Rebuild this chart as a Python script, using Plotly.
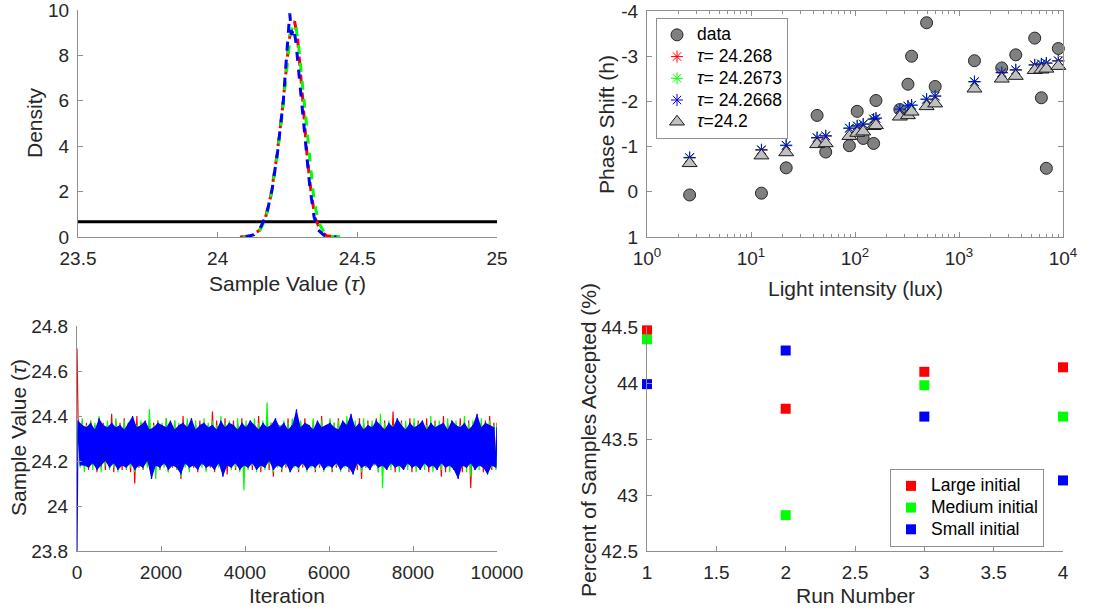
import plotly.graph_objects as go

# ---------------- data ----------------
# Top-left: posterior densities of tau for three chains
dens_red_x = [24.08, 24.12, 24.15, 24.17, 24.19, 24.21, 24.23, 24.245, 24.255, 24.265, 24.275, 24.285, 24.295, 24.305, 24.32, 24.335, 24.35, 24.37, 24.39, 24.42]
dens_red_y = [0.0, 0.05, 0.3, 0.8, 1.8, 3.4, 5.4, 7.3, 8.6, 9.3, 9.5, 8.9, 7.6, 6.0, 3.6, 1.9, 0.8, 0.25, 0.06, 0.0]
dens_green_x = [24.09, 24.12, 24.15, 24.17, 24.19, 24.21, 24.23, 24.245, 24.26, 24.27, 24.28, 24.29, 24.30, 24.315, 24.33, 24.345, 24.36, 24.38, 24.41, 24.45]
dens_green_y = [0.0, 0.04, 0.28, 0.75, 1.75, 3.3, 5.3, 7.2, 8.9, 9.4, 9.3, 8.4, 7.1, 5.2, 3.2, 1.6, 0.7, 0.2, 0.03, 0.0]
dens_blue_x = [24.10, 24.13, 24.155, 24.175, 24.195, 24.215, 24.235, 24.25, 24.258, 24.265, 24.272, 24.28, 24.29, 24.30, 24.315, 24.33, 24.345, 24.36, 24.38, 24.40, 24.425]
dens_blue_y = [0.0, 0.1, 0.45, 1.0, 2.1, 3.8, 6.0, 8.6, 9.85, 8.9, 9.2, 8.6, 7.4, 6.1, 4.1, 2.2, 0.9, 0.3, 0.08, 0.02, 0.0]
prior_range = [23.5, 25.0]
prior_density = 0.667

# Top-right: phase response data and model fits
lux = [2.57, 12.6, 21.8, 43.2, 52.3, 88.3, 105, 120, 151, 159, 270, 323, 350, 488, 590,
       1408, 2577, 3513, 5345, 6194, 6918, 9020]
shift_data = [0.07, 0.03, -0.53, -1.69, -0.88, -1.02, -1.78, -1.18, -1.07, -2.02, -1.82, -2.38, -3.0, -3.74, -2.33,
              -2.90, -2.74, -3.03, -3.40, -2.08, -0.52, -3.17]
shift_tau_a = [-0.75, -0.92, -1.02, -1.19, -1.23, -1.40, -1.45, -1.49, -1.60, -1.62, -1.82, -1.89, -1.91, -2.04, -2.11,
               -2.43, -2.63, -2.69, -2.80, -2.82, -2.84, -2.89]
shift_tau_b = [-0.75, -0.93, -1.03, -1.20, -1.24, -1.41, -1.46, -1.50, -1.61, -1.63, -1.83, -1.89, -1.91, -2.05, -2.12,
               -2.43, -2.64, -2.70, -2.81, -2.83, -2.85, -2.90]
shift_tau_c = [-0.76, -0.93, -1.03, -1.20, -1.24, -1.41, -1.46, -1.50, -1.61, -1.63, -1.83, -1.90, -1.92, -2.05, -2.12,
               -2.44, -2.64, -2.70, -2.81, -2.83, -2.85, -2.90]
shift_tau_d = [-0.63, -0.80, -0.87, -1.05, -1.07, -1.23, -1.30, -1.33, -1.45, -1.47, -1.66, -1.69, -1.77, -1.89, -1.95,
               -2.28, -2.50, -2.56, -2.69, -2.70, -2.72, -2.78]
legend_names = ["data", "<i>τ</i>= 24.268", "<i>τ</i>= 24.2673", "<i>τ</i>= 24.2668", "<i>τ</i>=24.2"]

# Bottom-left: MCMC trace, read as the start value plus the highest and lowest
# sample within each block of 100 iterations
block_size = 100
n_iter = 10000
start_large, start_medium, start_small = 24.70, 24.27, 23.80
large_high = [
    24.39, 24.38, 24.37, 24.38, 24.36, 24.39, 24.37, 24.36, 24.41, 24.38,
    24.37, 24.39, 24.36, 24.38, 24.40, 24.37, 24.36, 24.39, 24.37, 24.38,
    24.36, 24.39, 24.37, 24.38, 24.36, 24.40, 24.37, 24.39, 24.36, 24.38,
    24.37, 24.36, 24.42, 24.38, 24.37, 24.39, 24.36, 24.38, 24.37, 24.39,
    24.36, 24.38, 24.37, 24.40, 24.36, 24.39, 24.37, 24.38, 24.36, 24.37,
    24.39, 24.36, 24.38, 24.37, 24.39, 24.36, 24.38, 24.37, 24.40, 24.36,
    24.38, 24.37, 24.39, 24.36, 24.38, 24.37, 24.36, 24.39, 24.37, 24.38,
    24.36, 24.39, 24.37, 24.38, 24.36, 24.42, 24.37, 24.38, 24.36, 24.39,
    24.37, 24.38, 24.36, 24.39, 24.37, 24.38, 24.36, 24.40, 24.37, 24.38,
    24.36, 24.39, 24.37, 24.38, 24.36, 24.39, 24.37, 24.38, 24.40, 24.37]
large_low = [
    24.22, 24.17, 24.16, 24.18, 24.15, 24.17, 24.16, 24.18, 24.15, 24.17,
    24.16, 24.18, 24.15, 24.10, 24.17, 24.16, 24.18, 24.15, 24.17, 24.16,
    24.18, 24.15, 24.17, 24.16, 24.12, 24.18, 24.16, 24.17, 24.15, 24.18,
    24.16, 24.17, 24.15, 24.18, 24.16, 24.14, 24.17, 24.16, 24.18, 24.15,
    24.17, 24.16, 24.18, 24.15, 24.17, 24.16, 24.13, 24.18, 24.15, 24.17,
    24.16, 24.18, 24.15, 24.17, 24.16, 24.18, 24.15, 24.17, 24.16, 24.18,
    24.15, 24.17, 24.16, 24.18, 24.15, 24.17, 24.16, 24.12, 24.17, 24.16,
    24.18, 24.15, 24.17, 24.16, 24.18, 24.15, 24.17, 24.16, 24.18, 24.15,
    24.17, 24.16, 24.18, 24.15, 24.17, 24.16, 24.13, 24.15, 24.17, 24.16,
    24.18, 24.15, 24.17, 24.08, 24.16, 24.18, 24.15, 24.17, 24.16, 24.18]
medium_high = [
    24.37, 24.39, 24.36, 24.38, 24.37, 24.40, 24.36, 24.38, 24.37, 24.39,
    24.36, 24.38, 24.37, 24.39, 24.36, 24.38, 24.37, 24.43, 24.36, 24.38,
    24.37, 24.39, 24.36, 24.38, 24.37, 24.36, 24.39, 24.37, 24.38, 24.36,
    24.39, 24.37, 24.38, 24.36, 24.40, 24.37, 24.38, 24.36, 24.39, 24.37,
    24.38, 24.36, 24.39, 24.37, 24.38, 24.46, 24.37, 24.39, 24.36, 24.38,
    24.37, 24.39, 24.36, 24.38, 24.37, 24.36, 24.39, 24.37, 24.38, 24.36,
    24.39, 24.37, 24.38, 24.36, 24.40, 24.37, 24.38, 24.36, 24.39, 24.37,
    24.38, 24.36, 24.41, 24.37, 24.38, 24.36, 24.39, 24.37, 24.38, 24.36,
    24.39, 24.37, 24.38, 24.36, 24.40, 24.37, 24.38, 24.36, 24.39, 24.37,
    24.38, 24.36, 24.40, 24.37, 24.38, 24.36, 24.39, 24.37, 24.38, 24.36]
medium_low = [
    24.17, 24.15, 24.18, 24.16, 24.17, 24.15, 24.18, 24.16, 24.17, 24.15,
    24.18, 24.16, 24.17, 24.15, 24.18, 24.16, 24.17, 24.15, 24.12, 24.16,
    24.17, 24.15, 24.18, 24.16, 24.13, 24.17, 24.15, 24.18, 24.16, 24.17,
    24.15, 24.18, 24.16, 24.17, 24.15, 24.18, 24.16, 24.17, 24.15, 24.07,
    24.16, 24.18, 24.15, 24.17, 24.16, 24.18, 24.15, 24.17, 24.16, 24.18,
    24.15, 24.17, 24.16, 24.18, 24.15, 24.17, 24.16, 24.18, 24.15, 24.17,
    24.16, 24.18, 24.15, 24.17, 24.16, 24.14, 24.18, 24.15, 24.17, 24.16,
    24.18, 24.15, 24.08, 24.17, 24.16, 24.18, 24.15, 24.17, 24.16, 24.18,
    24.15, 24.17, 24.16, 24.18, 24.15, 24.17, 24.16, 24.18, 24.15, 24.17,
    24.16, 24.18, 24.15, 24.13, 24.17, 24.16, 24.18, 24.15, 24.17, 24.16]
small_high = [
    24.38, 24.36, 24.35, 24.37, 24.34, 24.39, 24.36, 24.35, 24.37, 24.35,
    24.36, 24.34, 24.37, 24.40, 24.35, 24.36, 24.38, 24.34, 24.35, 24.37,
    24.36, 24.35, 24.38, 24.34, 24.36, 24.37, 24.35, 24.39, 24.34, 24.36,
    24.37, 24.35, 24.36, 24.34, 24.38, 24.35, 24.37, 24.36, 24.34, 24.37,
    24.35, 24.38, 24.36, 24.34, 24.37, 24.35, 24.36, 24.39, 24.35, 24.37,
    24.34, 24.36, 24.43, 24.35, 24.37, 24.36, 24.34, 24.38, 24.35, 24.36,
    24.37, 24.35, 24.34, 24.38, 24.36, 24.41, 24.35, 24.37, 24.34, 24.36,
    24.35, 24.38, 24.36, 24.34, 24.37, 24.35, 24.39, 24.36, 24.34, 24.37,
    24.35, 24.36, 24.38, 24.34, 24.37, 24.35, 24.36, 24.37, 24.34, 24.38,
    24.36, 24.35, 24.37, 24.34, 24.36, 24.41, 24.35, 24.37, 24.36, 24.35]
small_low = [
    24.18, 24.18, 24.17, 24.19, 24.16, 24.18, 24.20, 24.17, 24.19, 24.16,
    24.18, 24.17, 24.19, 24.16, 24.18, 24.17, 24.20, 24.12, 24.18, 24.17,
    24.19, 24.16, 24.18, 24.17, 24.14, 24.19, 24.17, 24.18, 24.16, 24.19,
    24.17, 24.18, 24.16, 24.19, 24.13, 24.18, 24.17, 24.19, 24.16, 24.18,
    24.17, 24.19, 24.16, 24.18, 24.17, 24.20, 24.16, 24.18, 24.17, 24.19,
    24.15, 24.18, 24.17, 24.19, 24.16, 24.18, 24.17, 24.19, 24.16, 24.18,
    24.17, 24.19, 24.16, 24.18, 24.17, 24.14, 24.19, 24.17, 24.18, 24.16,
    24.19, 24.17, 24.18, 24.16, 24.19, 24.17, 24.18, 24.16, 24.19, 24.17,
    24.18, 24.16, 24.19, 24.17, 24.18, 24.16, 24.19, 24.17, 24.18, 24.16,
    24.12, 24.18, 24.17, 24.19, 24.16, 24.18, 24.17, 24.14, 24.18, 24.17]

# Bottom-right: acceptance rates
runs = [1, 2, 3, 4]
accept_large = [44.47, 43.77, 44.10, 44.14]
accept_medium = [44.39, 42.82, 43.98, 43.70]
accept_small = [43.99, 44.29, 43.70, 43.13]
accept_names = ["Large initial", "Medium initial", "Small initial"]

RED, GREEN, BLUE = "#ff0000", "#00ff00", "#0000ff"
AX = "#8f8f8f"
TXT = "#262626"
FONT = "Liberation Sans, Arial, Helvetica, sans-serif"
LEG_TXT = '<span style="font-size:17.5px">{}</span>'


def trace_path(start, highs, lows):
    xs, ys = [0], [start]
    for i, (h, l) in enumerate(zip(highs, lows)):
        xs += [i * block_size + block_size * 0.25, i * block_size + block_size * 0.75]
        ys += [h, l]
    xs.append(n_iter)
    ys.append(highs[-1])
    return xs, ys


fig = go.Figure()

# ---- top-left
fig.add_trace(go.Scatter(x=prior_range, y=[prior_density, prior_density], mode="lines",
                         line=dict(color="black", width=3), xaxis="x", yaxis="y", showlegend=False))
for xs, ys, c in [(dens_red_x, dens_red_y, RED), (dens_green_x, dens_green_y, GREEN), (dens_blue_x, dens_blue_y, BLUE)]:
    fig.add_trace(go.Scatter(x=xs, y=ys, mode="lines", line=dict(color=c, width=3, dash="dash"),
                             xaxis="x", yaxis="y", showlegend=False))

# ---- top-right
fig.add_trace(go.Scatter(x=lux, y=shift_data, mode="markers", name=LEG_TXT.format(legend_names[0]),
                         marker=dict(symbol="circle", size=12, color="#808080", line=dict(color="#262626", width=1)),
                         xaxis="x2", yaxis="y2", legend="legend", cliponaxis=False))
for ys, c, nm in [(shift_tau_a, RED, legend_names[1]), (shift_tau_b, GREEN, legend_names[2]), (shift_tau_c, BLUE, legend_names[3])]:
    fig.add_trace(go.Scatter(x=lux, y=ys, mode="markers", name=LEG_TXT.format(nm),
                             marker=dict(symbol="asterisk-open", size=10, color=c, line=dict(color=c, width=1)),
                             xaxis="x2", yaxis="y2", legend="legend", cliponaxis=False))
fig.add_trace(go.Scatter(x=lux, y=shift_tau_d, mode="markers", name=LEG_TXT.format(legend_names[4]),
                         marker=dict(symbol="triangle-up", size=13, color="#c0c0c0", line=dict(color="#1a1a1a", width=1)),
                         xaxis="x2", yaxis="y2", legend="legend", cliponaxis=False))

# ---- bottom-left
for st, hi, lo, c in [(start_large, large_high, large_low, RED),
                      (start_medium, medium_high, medium_low, GREEN)]:
    xs, ys = trace_path(st, hi, lo)
    fig.add_trace(go.Scatter(x=xs, y=ys, mode="lines", line=dict(color=c, width=1.2),
                             xaxis="x3", yaxis="y3", showlegend=False))
# dense blue chain: block envelope, then its samples on top
bin_hi_x = [i * block_size + block_size * 0.25 for i in range(len(small_high))]
bin_lo_x = [i * block_size + block_size * 0.75 for i in range(len(small_low))]
fig.add_trace(go.Scatter(x=bin_hi_x, y=small_high, mode="lines", line=dict(color=BLUE, width=0),
                         xaxis="x3", yaxis="y3", showlegend=False, hoverinfo="skip"))
fig.add_trace(go.Scatter(x=bin_lo_x, y=small_low, mode="lines", line=dict(color=BLUE, width=0),
                         fill="tonexty", fillcolor=BLUE, xaxis="x3", yaxis="y3", showlegend=False, hoverinfo="skip"))
xs, ys = trace_path(start_small, small_high, small_low)
fig.add_trace(go.Scatter(x=xs, y=ys, mode="lines", line=dict(color=BLUE, width=1.2),
                         xaxis="x3", yaxis="y3", showlegend=False))

# ---- bottom-right
for ys, c, nm in [(accept_large, RED, accept_names[0]), (accept_medium, GREEN, accept_names[1]), (accept_small, BLUE, accept_names[2])]:
    fig.add_trace(go.Scatter(x=runs, y=ys, mode="markers", name=LEG_TXT.format(nm),
                             marker=dict(symbol="square", size=10, color=c, line=dict(width=0)),
                             xaxis="x4", yaxis="y4", legend="legend2", cliponaxis=False))


def ax(**kw):
    d = dict(showline=True, linecolor=AX, linewidth=1, ticks="inside", ticklen=5, tickcolor=AX,
             tickfont=dict(size=19, color=TXT, family=FONT), showgrid=False, zeroline=False,
             fixedrange=True, ticklabelstandoff=4, automargin=False, ticklabeloverflow="allow")
    d.update(kw)
    return d


W, H = 1103, 612
def px_x(a, b):
    return [a / W, b / W]
def px_y(top, bottom):
    return [1 - bottom / H, 1 - top / H]

fig.update_layout(
    width=W, height=H, margin=dict(l=0, r=0, t=0, b=0),
    paper_bgcolor="white", plot_bgcolor="white",
    font=dict(family=FONT, color=TXT, size=19),
    xaxis=ax(domain=px_x(78, 497), range=[23.5, 25], tickvals=[23.5, 24, 24.5, 25],
             ticktext=["23.5", "24", "24.5", "25"], anchor="y"),
    yaxis=ax(domain=px_y(10, 237), range=[0, 10], tickvals=[0, 2, 4, 6, 8, 10],
             ticktext=["0", "2", "4", "6", "8", "10"], anchor="x"),
    xaxis2=ax(domain=px_x(647, 1063), type="log", range=[0, 4], mirror="allticks",
              tickvals=[1, 10, 100, 1000, 10000],
              ticktext=["10<sup>0</sup>", "10<sup>1</sup>", "10<sup>2</sup>", "10<sup>3</sup>", "10<sup>4</sup>"],
              minor=dict(ticks="inside", ticklen=3, tickcolor=AX, dtick="D1", showgrid=False), anchor="y2"),
    yaxis2=ax(domain=px_y(11, 237), range=[1, -4], mirror="allticks",
              tickvals=[-4, -3, -2, -1, 0, 1], ticktext=["-4", "-3", "-2", "-1", "0", "1"], anchor="x2"),
    xaxis3=ax(domain=px_x(77, 497), range=[0, 10000], tickvals=[0, 2000, 4000, 6000, 8000, 10000],
              ticktext=["0", "2000", "4000", "6000", "8000", "10000"], anchor="y3"),
    yaxis3=ax(domain=px_y(326, 551), range=[23.8, 24.8], tickvals=[23.8, 24.0, 24.2, 24.4, 24.6, 24.8],
              ticktext=["23.8", "24", "24.2", "24.4", "24.6", "24.8"], anchor="x3"),
    xaxis4=ax(domain=px_x(647, 1063), range=[1, 4], tickvals=[1, 1.5, 2, 2.5, 3, 3.5, 4],
              ticktext=["1", "1.5", "2", "2.5", "3", "3.5", "4"], anchor="y4"),
    yaxis4=ax(domain=px_y(327, 551), range=[42.5, 44.5], tickvals=[42.5, 43, 43.5, 44, 44.5],
              ticktext=["42.5", "43", "43.5", "44", "44.5"], anchor="x4"),
    legend=dict(x=656 / W, y=1 - 18 / H, xanchor="left", yanchor="top", bgcolor="white",
                bordercolor=AX, borderwidth=1, font=dict(size=14.4, color="black", family=FONT),
                tracegroupgap=0, itemsizing="trace", traceorder="normal"),
    legend2=dict(x=890 / W, y=1 - 469 / H, xanchor="left", yanchor="top", bgcolor="white",
                 bordercolor=AX, borderwidth=1, font=dict(size=14.4, color="black", family=FONT),
                 tracegroupgap=0, traceorder="normal"),
)

titles = [
    ("Sample Value (<i>τ</i>)", 287, 283, 0),
    ("Density", 35, 123, -90),
    ("Light intensity (lux)", 855, 288, 0),
    ("Phase Shift (h)", 607, 124, -90),
    ("Iteration", 287, 595, 0),
    ("Sample Value (<i>τ</i>)", 18, 438, -90),
    ("Run Number", 855, 595, 0),
    ("Percent of Samples Accepted (%)", 588, 440, -90),
]
for txt, x, y, ang in titles:
    fig.add_annotation(text=txt, x=x / W, y=1 - y / H, xref="paper", yref="paper",
                       xanchor="center", yanchor="middle", showarrow=False, textangle=ang,
                       font=dict(size=21, color=TXT, family=FONT))

fig.write_html("out.html")
